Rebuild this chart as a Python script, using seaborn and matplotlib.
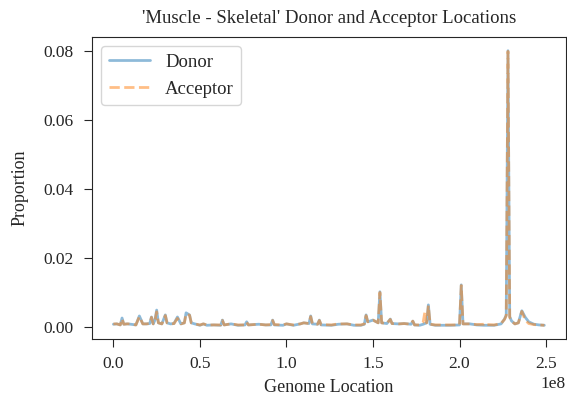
import numpy as np
import pandas as pd
import matplotlib
matplotlib.use("Agg")
import matplotlib.pyplot as plt
import seaborn as sns

# genome positions in Mb
location_mb = [
    0, 2, 4, 5, 6, 8, 10, 13, 15, 17,
    19, 21, 22, 23, 24, 25, 26, 28, 30, 31,
    33, 35, 37, 39, 41, 42, 44, 45, 47, 50,
    52, 54, 58, 62, 63, 64, 68, 72, 76, 77,
    78, 84, 88, 91, 92, 93, 98, 100, 104, 108,
    110, 113, 114, 115, 118, 119, 120, 126, 130, 135,
    139, 143, 145, 146, 147, 150, 153, 154, 155, 158,
    160, 161, 165, 168, 172, 173, 174, 177, 179, 180,
    181, 182, 183, 186, 190, 195, 200, 201, 202, 206,
    210, 214, 215, 216, 220, 224, 226, 227, 228, 229,
    230, 232, 234, 236, 238, 240, 243, 246, 249,
]

# proportions in units of 1e-4
donor_e4 = [
    8, 9, 6, 26, 8, 9, 8, 6, 32, 9,
    9, 10, 29, 9, 20, 49, 12, 9, 35, 12,
    9, 10, 29, 9, 12, 41, 35, 12, 9, 5,
    9, 5, 6, 5, 20, 6, 9, 5, 6, 15,
    6, 8, 6, 6, 20, 6, 5, 9, 5, 9,
    12, 10, 32, 9, 8, 20, 6, 5, 8, 9,
    5, 5, 8, 35, 15, 20, 12, 102, 12, 10,
    23, 10, 9, 10, 8, 17, 6, 5, 8, 10,
    12, 64, 8, 5, 5, 5, 6, 122, 9, 9,
    6, 5, 5, 5, 5, 9, 23, 35, 800, 30,
    18, 9, 12, 47, 28, 15, 8, 6, 5,
]
acceptor_e4 = [
    9, 9, 6, 24, 8, 9, 9, 6, 30, 9,
    9, 10, 28, 9, 18, 44, 12, 9, 33, 12,
    9, 10, 25, 9, 12, 38, 34, 12, 9, 6,
    9, 6, 6, 6, 19, 6, 9, 6, 6, 14,
    6, 8, 6, 7, 19, 7, 6, 9, 6, 9,
    12, 10, 30, 9, 8, 19, 7, 6, 9, 9,
    6, 6, 9, 33, 15, 20, 12, 100, 12, 10,
    22, 10, 9, 10, 8, 17, 6, 6, 14, 44,
    12, 62, 8, 6, 6, 6, 6, 120, 9, 9,
    7, 8, 12, 7, 6, 10, 22, 33, 798, 28,
    17, 9, 12, 45, 20, 10, 7, 6, 5,
]

df = pd.DataFrame({
    "location": np.array(location_mb) * 1e6,
    "Donor": np.array(donor_e4) / 1e4,
    "Acceptor": np.array(acceptor_e4) / 1e4,
})

sns.set_style("ticks")
plt.rcParams["font.family"] = ["Liberation Serif", "DejaVu Serif"]
plt.rcParams["font.size"] = 13

fig = plt.figure(figsize=(5.67, 4.0), dpi=100)
ax = fig.add_axes([0.162, 0.1525, 0.836, 0.755])

sns.lineplot(data=df, x="location", y="Donor", ax=ax, label="Donor",
             color="C0", alpha=0.5, linewidth=2)
sns.lineplot(data=df, x="location", y="Acceptor", ax=ax, label="Acceptor",
             color="C1", alpha=0.5, linewidth=2, linestyle="--")

ax.set_title("'Muscle - Skeletal' Donor and Acceptor Locations", fontsize=13.5, pad=10)
ax.set_xlabel("Genome Location", fontsize=13, labelpad=5)
ax.set_ylabel("Proportion", fontsize=13, labelpad=11)
ax.set_xticks([0, 0.5e8, 1.0e8, 1.5e8, 2.0e8, 2.5e8])
ax.set_yticks([0, 0.02, 0.04, 0.06, 0.08])
ax.tick_params(labelsize=12.5, length=6, pad=7)
ax.tick_params(axis="x", pad=6)
ax.xaxis.get_offset_text().set_fontsize(12.5)
ax.legend(loc="upper left", fontsize=13.5, handlelength=2.2)

plt.savefig("out.png", dpi=100)
plt.close()
